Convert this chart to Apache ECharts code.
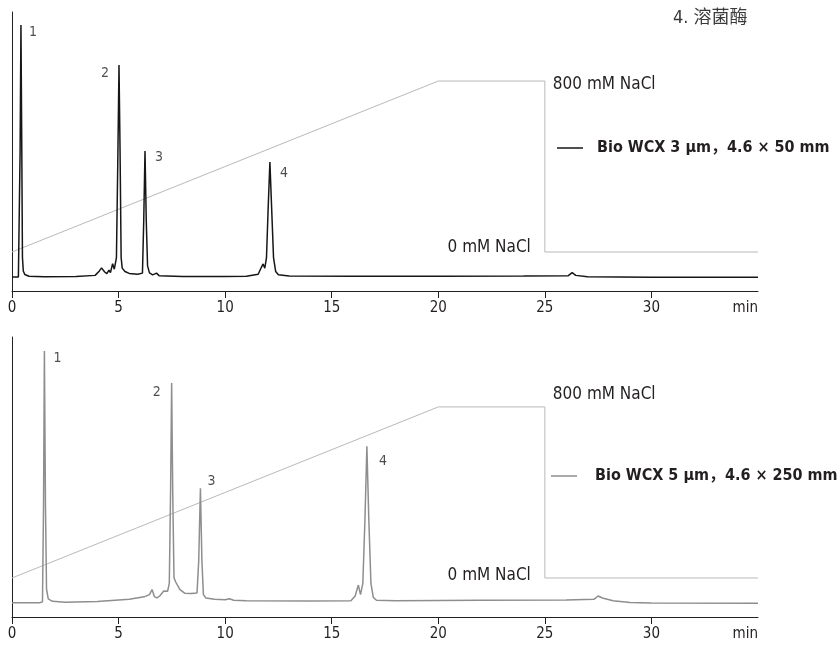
<!DOCTYPE html>
<html>
<head>
<meta charset="utf-8">
<script src="https://cdn.jsdelivr.net/npm/echarts@6/dist/echarts.min.js"></script>
<style>
  html, body { margin: 0; padding: 0; background: #fff; }
  #chart { width: 837px; height: 646px; }
</style>
</head>
<body>
<div id="chart"></div>
<script>
// Time axis (min)
const tickValues = [0, 5, 10, 15, 20, 25, 30];
const labelValues = [0, 5, 10, 15, 20, 25, 30, 35];
const axisUnit = 'min';

// NaCl gradient program (shared by both runs): time (min) / concentration (mM)
const gradientTime = [0, 20, 25, 25, 35];
const gradientConc = [0, 800, 800, 0, 0];
const gradientHigh = '800 mM NaCl';
const gradientLow = '0 mM NaCl';

const sampleTitle = '4. 溶菌酶';

// Column names
const column3um = 'Bio WCX 3 μm，4.6 × 50 mm';
const column5um = 'Bio WCX 5 μm，4.6 × 250 mm';

// Bio WCX 3 µm, 4.6 × 50 mm trace: [time (min), signal]
const trace3um = [
  [0, 5], [0.3, 5], [0.36, 5.3], [0.38, 50], [0.42, 95.3], [0.46, 50], [0.49, 12], [0.53, 7.2],
  [0.6, 5.9], [0.8, 5.3], [1.5, 5.1], [3, 5.2], [3.9, 5.6], [4.1, 7.2], [4.2, 8.3], [4.35, 6.8],
  [4.45, 6.2], [4.55, 7.5], [4.62, 6.6], [4.72, 9.8], [4.8, 7.8], [4.9, 12], [4.97, 50], [5.02, 81],
  [5.07, 50], [5.12, 12], [5.17, 8.2], [5.23, 8.3], [5.3, 7], [5.5, 6.3], [5.9, 6], [6.12, 6.4],
  [6.18, 25], [6.24, 50.2], [6.3, 25], [6.36, 9], [6.45, 6.5], [6.6, 5.8], [6.78, 6.4], [6.9, 5.5],
  [8, 5.2], [10, 5.2], [11, 5.3], [11.55, 6], [11.7, 8.5], [11.78, 9.7], [11.86, 8.2], [11.94, 12],
  [12.02, 30], [12.1, 46.2], [12.18, 30], [12.27, 12], [12.37, 7], [12.5, 5.8], [13, 5.4], [16, 5.3],
  [20, 5.3], [24, 5.4], [26.1, 5.5], [26.28, 6.6], [26.45, 5.6], [27, 5.1], [30, 4.9], [35, 4.9]
];

// Bio WCX 5 µm, 4.6 × 250 mm trace: [time (min), signal]
const trace5um = [
  [0, 5.1], [1.3, 5.1], [1.43, 5.4], [1.48, 40], [1.52, 95], [1.57, 40], [1.62, 10], [1.7, 6.5],
  [1.9, 5.6], [2.5, 5.3], [4, 5.5], [5.5, 6.3], [6.2, 7.2], [6.45, 8], [6.57, 9.8], [6.68, 7.3],
  [6.8, 6.8], [6.93, 7.5], [7.0, 7], [7.12, 9.3], [7.2, 8.6], [7.3, 9.2], [7.38, 12], [7.44, 45],
  [7.49, 83.6], [7.54, 45], [7.6, 14], [7.68, 12.5], [7.76, 12], [7.88, 9.8], [8.1, 8.5], [8.4, 8.4],
  [8.68, 8.6], [8.76, 20], [8.84, 46], [8.91, 20], [8.98, 8], [9.1, 6.8], [9.5, 6.3], [10.0, 6.2],
  [10.2, 6.5], [10.4, 6], [11, 5.8], [14, 5.7], [15.9, 5.8], [16.1, 7.5], [16.25, 11.4], [16.35, 8],
  [16.46, 12], [16.56, 35], [16.65, 61], [16.74, 35], [16.84, 12], [16.95, 7], [17.1, 6], [18, 5.8],
  [22, 6], [26, 6.1], [27.3, 6.3], [27.5, 7.5], [27.7, 6.8], [28.2, 5.8], [29, 5.2], [30, 5], [35, 4.9]
];

// Peak apexes and numbers
const peakNames = ['1', '2', '3', '4'];
const peaks3umTime = [0.42, 5.02, 6.24, 12.1];
const peaks3umHeight = [95.3, 81, 50.2, 46.2];
const peaks5umTime = [1.52, 7.49, 8.84, 16.65];
const peaks5umHeight = [95, 83.6, 46, 61];

const FONT = "'DejaVu Sans Condensed', 'Noto Sans CJK SC', sans-serif";
const INK = '#231f20';
const GRAD_COLOR = '#b9b9b9';

const gradientData = gradientTime.map((t, i) => [t, gradientConc[i]]);

function peakSeries(times, heights, offsets, xi, yi) {
  return {
    type: 'scatter',
    xAxisIndex: xi, yAxisIndex: yi,
    symbolSize: 0, silent: true, z: 5,
    data: times.map((t, i) => ({
      name: peakNames[i],
      value: [t, heights[i]],
      label: { offset: offsets[i] }
    })),
    label: {
      show: true, position: 'inside', formatter: p => p.name,
      fontFamily: FONT, fontSize: 14, color: INK
    }
  };
}

function gradientSeries(xi, yi, highOffset, lowOffset) {
  return {
    type: 'line',
    xAxisIndex: xi, yAxisIndex: yi,
    data: gradientData.map((d, i) => {
      const item = { value: d };
      if (i === 2) item.label = { show: true, position: 'right', distance: 8, offset: highOffset, formatter: gradientHigh };
      if (i === 3) item.label = { show: true, position: 'left', distance: 14, offset: lowOffset, formatter: gradientLow };
      return item;
    }),
    showSymbol: true, symbolSize: 0, symbol: 'circle',
    lineStyle: { color: GRAD_COLOR, width: 1 },
    itemStyle: { color: GRAD_COLOR },
    label: { show: false, fontFamily: FONT, fontSize: 17, color: INK },
    silent: true, z: 1
  };
}

function timeAxis(gi) {
  return {
    type: 'value', gridIndex: gi, min: 0, max: 35,
    axisLine: { show: true, onZero: false, lineStyle: { color: INK, width: 1 } },
    axisTick: { show: true, inside: false, length: 7, customValues: tickValues, lineStyle: { color: INK, width: 1 } },
    axisLabel: {
      show: true, customValues: labelValues, margin: 10,
      formatter: v => (v === 35 ? axisUnit : String(v)),
      alignMaxLabel: 'right',
      fontFamily: FONT, fontSize: 15, color: INK
    },
    splitLine: { show: false }
  };
}

function signalAxis(gi) {
  return {
    type: 'value', gridIndex: gi, min: 0, max: 100,
    axisLine: { show: true, onZero: false, lineStyle: { color: INK, width: 1 } },
    axisTick: { show: false }, axisLabel: { show: false }, splitLine: { show: false }
  };
}

function concAxis(gi, min, max) {
  return {
    type: 'value', gridIndex: gi, min: min, max: max, show: false,
    axisLine: { show: false }, splitLine: { show: false }
  };
}

const legendBase = {
  orient: 'horizontal', padding: 0, itemWidth: 26, itemHeight: 1.5, icon: 'rect',
  selectedMode: false,
  textStyle: { fontFamily: FONT, fontSize: 16, fontWeight: 'bold', color: INK }
};

const option = {
  animation: false,
  backgroundColor: '#fff',
  title: {
    text: sampleTitle, left: 673, top: 9, padding: 0,
    textStyle: { fontFamily: FONT, fontSize: 18, fontWeight: 'normal', color: '#3a3a3a' }
  },
  grid: [
    { left: 12, right: 79, top: 12, height: 279 },
    { left: 12, right: 79, top: 337, height: 280 }
  ],
  legend: [
    Object.assign({}, legendBase, {
      data: [column3um], left: 557, top: 140,
      textStyle: Object.assign({}, legendBase.textStyle, { padding: [0, 0, 0, 9] })
    }),
    Object.assign({}, legendBase, {
      data: [column5um], left: 551, top: 468,
      textStyle: Object.assign({}, legendBase.textStyle, { padding: [0, 0, 0, 13] })
    })
  ],
  xAxis: [timeAxis(0), timeAxis(1)],
  yAxis: [signalAxis(0), concAxis(0, -182.5, 1123), signalAxis(1), concAxis(1, -182.5, 1127)],
  series: [
    gradientSeries(0, 1, [0, 4], [0, -4]),
    {
      name: column3um, type: 'line', xAxisIndex: 0, yAxisIndex: 0,
      data: trace3um, showSymbol: false, symbol: 'none',
      lineStyle: { color: '#161616', width: 1.5 }, itemStyle: { color: '#161616' }, z: 3
    },
    peakSeries(peaks3umTime, peaks3umHeight, [[12, 7], [-14, 8], [14, 6], [14, 11]], 0, 0),
    gradientSeries(1, 3, [0, -12], [0, -2]),
    {
      name: column5um, type: 'line', xAxisIndex: 1, yAxisIndex: 2,
      data: trace5um, showSymbol: false, symbol: 'none',
      lineStyle: { color: '#8e8e8e', width: 1.5 }, itemStyle: { color: '#8e8e8e' }, z: 3
    },
    peakSeries(peaks5umTime, peaks5umHeight, [[13, 7], [-15, 9], [11, -7], [16, 15]], 1, 2)
  ]
};

const chart = echarts.init(document.getElementById('chart'), null, { renderer: 'canvas' });
chart.setOption(option);
</script>
</body>
</html>
